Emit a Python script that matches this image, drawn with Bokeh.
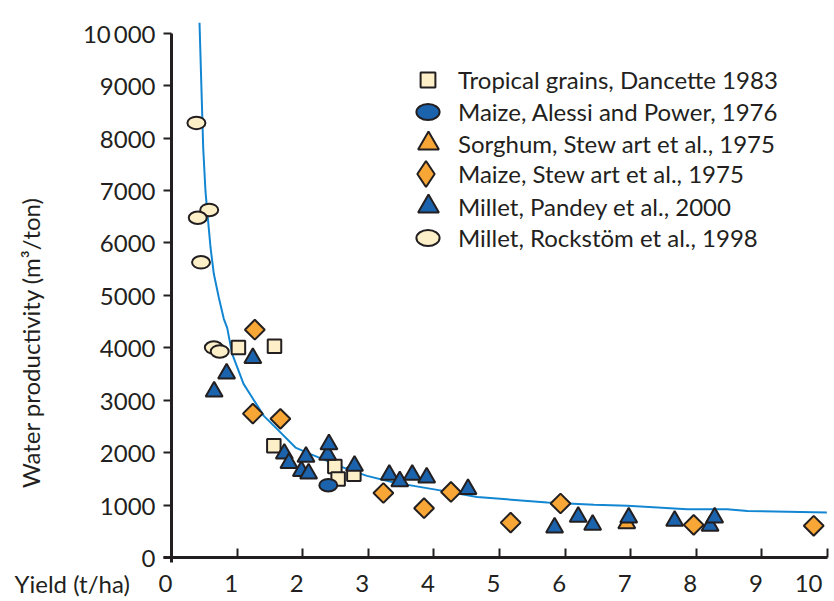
import math
from bokeh.plotting import figure
from bokeh.models import Legend, LegendItem, Label, FixedTicker, Range1d
from bokeh.embed import file_html
from bokeh.resources import INLINE

FONT = "Lato"
INK = "#231f20"
CREAM = "#fdf0c8"
BLUE = "#1b63ad"
ORANGE = "#f8a737"
CURVE = "#1286d2"

# ---- data ----
curve_x = [0.427, 0.453, 0.483, 0.518, 0.559, 0.595, 0.645, 0.721, 0.797, 0.849, 0.925,
           1.098, 1.23, 1.407, 1.611, 1.89, 2.12, 2.37, 2.68, 2.98, 3.39, 3.69, 4.05,
           4.66, 5.73, 6.44, 6.95, 7.86, 8.47, 8.78, 9.99]
curve_y = [10200, 9094, 7821, 6982, 6405, 5913, 5411, 4959, 4553, 4381, 3885,
           3312, 3051, 2702, 2448, 2097, 1971, 1843, 1685, 1557, 1429, 1366, 1290,
           1156, 1047, 1004, 985, 922, 922, 889, 857]

dancette_x = [1.02, 1.57, 1.56, 2.49, 2.54, 2.78]
dancette_y = [4005, 4030, 2130, 1735, 1495, 1590]

alessi_x = [2.39]
alessi_y = [1380]

sorghum_x = [6.94]
sorghum_y = [650]

maize_stewart_x = [1.27, 1.24, 1.66, 3.23, 3.85, 4.26, 5.17, 5.93, 7.96, 9.79]
maize_stewart_y = [4345, 2745, 2645, 1230, 940, 1250, 665, 1030, 622, 605]

pandey_x = [0.65, 0.84, 1.24, 1.72, 1.79, 1.98, 2.05, 2.09, 2.38, 2.40, 2.79, 3.32,
            3.48, 3.67, 3.89, 4.52, 5.84, 6.20, 6.42, 6.97, 7.67, 8.21, 8.28]
pandey_y = [3165, 3510, 3805, 1980, 1800, 1650, 1920, 1600, 1960, 2160, 1750, 1576,
            1455, 1576, 1525, 1303, 571, 775, 622, 761, 698, 603, 761]

rockstrom_x = [0.38, 0.575, 0.40, 0.45, 0.645, 0.735]
rockstrom_y = [8290, 6630, 6480, 5630, 4005, 3930]

x_ticks = list(range(0, 11))
y_ticks = list(range(0, 10001, 1000))
y_tick_overrides = {10000: "10\u2009000"}
# tick labels sit a little left of their ticks in the original
x_tick_overrides = {t: f"{t}\u2002" for t in x_ticks}

labels = ["Tropical grains, Dancette 1983",
          "Maize, Alessi and Power, 1976",
          "Sorghum, Stew art et al., 1975",
          "Maize, Stew art et al., 1975",
          "Millet, Pandey et al., 2000",
          "Millet, Rockstöm et al., 1998"]

# ---- geometry: the frame fills the canvas, axes are pinned at 0 ----
W, H = 834, 600
X0_PX, X10_PX = 171, 827          # pixel of x = 0 and x = 10
Y0_PX, KY = 557, 540 / 10300       # pixel of y = 0, pixels per unit
kx = (X10_PX - X0_PX) / 10
x_range = Range1d(-X0_PX / kx, 10 + (W - X10_PX) / kx)
y_range = Range1d(-(H - Y0_PX) / KY, Y0_PX / KY)

p = figure(frame_width=W, frame_height=H, x_range=x_range, y_range=y_range,
           output_backend="svg", toolbar_location=None,
           min_border_left=0, min_border_right=0,
           min_border_top=0, min_border_bottom=0)
p.outline_line_color = None
p.grid.visible = False
p.background_fill_color = "white"

TICK_FONT = "24px"

xa = p.xaxis[0]
xa.fixed_location = 0
xa.bounds = (-0.12, 10)
xa.ticker = FixedTicker(ticks=x_ticks)
xa.major_label_overrides = x_tick_overrides
xa.major_tick_in = 9
xa.major_tick_out = 0
xa.minor_tick_line_color = None
xa.axis_line_width = 3
xa.axis_line_color = INK
xa.major_tick_line_width = 2
xa.major_tick_line_color = INK
xa.major_label_text_font = FONT
xa.major_label_text_font_size = TICK_FONT
xa.major_label_text_color = INK
xa.major_label_standoff = 10

ya = p.yaxis[0]
ya.fixed_location = 0
ya.bounds = (-100, 10000)
ya.ticker = FixedTicker(ticks=y_ticks)
ya.major_tick_in = 0
ya.major_tick_out = 8
ya.minor_tick_line_color = None
ya.axis_line_width = 3
ya.axis_line_color = INK
ya.major_tick_line_width = 2
ya.major_tick_line_color = INK
ya.major_label_text_font = FONT
ya.major_label_text_font_size = TICK_FONT
ya.major_label_text_color = INK
ya.major_label_standoff = 8
ya.major_label_overrides = y_tick_overrides

# curve
p.line(curve_x, curve_y, line_color=CURVE, line_width=2)

# markers
r_dan = p.scatter(dancette_x, dancette_y, marker="square", size=13.5,
                  fill_color=CREAM, line_color=INK, line_width=2)
r_ale = p.ellipse(alessi_x, alessi_y, width=18, height=12.5,
                  width_units="screen", height_units="screen",
                  fill_color=BLUE, line_color=INK, line_width=2)
r_sor = p.scatter(sorghum_x, sorghum_y, marker="triangle", size=17,
                  fill_color=ORANGE, line_color=INK, line_width=2)
r_mst = p.scatter(maize_stewart_x, maize_stewart_y, marker="square", size=14,
                  angle=math.pi / 4, fill_color=ORANGE, line_color=INK, line_width=2)
# legend swatch for the diamonds (the legend does not rotate markers)
r_mst_key = p.scatter(maize_stewart_x, maize_stewart_y, marker="diamond", size=26,
                      fill_color=ORANGE, line_color=INK, line_width=2, visible=False)
r_pan = p.scatter(pandey_x, pandey_y, marker="triangle", size=17,
                  fill_color=BLUE, line_color=INK, line_width=2)
r_roc = p.ellipse(rockstrom_x, rockstrom_y, width=18, height=12.5,
                  width_units="screen", height_units="screen",
                  fill_color=CREAM, line_color=INK, line_width=2)

# legends (one per row, so each symbol keeps its own size); px in the frame
LEG_X = 428      # glyph centre from the left
TEXT_X = 458     # text start from the left
rows = [H - 80, H - 112, H - 143, H - 173.5, H - 205.5, H - 237]  # from the bottom
boxes = [37, 29, 52, 65, 52, 29]
renderers = [r_dan, r_ale, r_sor, r_mst_key, r_pan, r_roc]
for lab, r, D, cy in zip(labels, renderers, boxes, rows):
    standoff = max(0, int(round(TEXT_X - LEG_X - D / 2)))
    left = TEXT_X - standoff - D
    leg = Legend(items=[LegendItem(label=lab, renderers=[r])],
                 location=(int(round(left)), int(round(cy - D / 2))),
                 glyph_width=D, glyph_height=D, label_height=D,
                 label_standoff=standoff,
                 padding=0, margin=0, spacing=0,
                 border_line_alpha=0, background_fill_alpha=0,
                 inactive_fill_alpha=0,
                 label_text_font=FONT, label_text_font_size="24px",
                 label_text_color=INK)
    p.add_layout(leg)

p.add_layout(Label(x=(30 - X0_PX) / kx, y=(Y0_PX - 342) / KY,
                   text="Water productivity (m³/ton)", angle=math.pi / 2,
                   text_align="center", text_baseline="middle",
                   text_font=FONT, text_font_size="24px", text_color=INK))
p.add_layout(Label(x=(14 - X0_PX) / kx, y=(Y0_PX - 583) / KY,
                   text="Yield (t/ha)", text_align="left", text_baseline="middle",
                   text_font=FONT, text_font_size="24px", text_color=INK))

open("out.html", "w").write(file_html(p, INLINE))
